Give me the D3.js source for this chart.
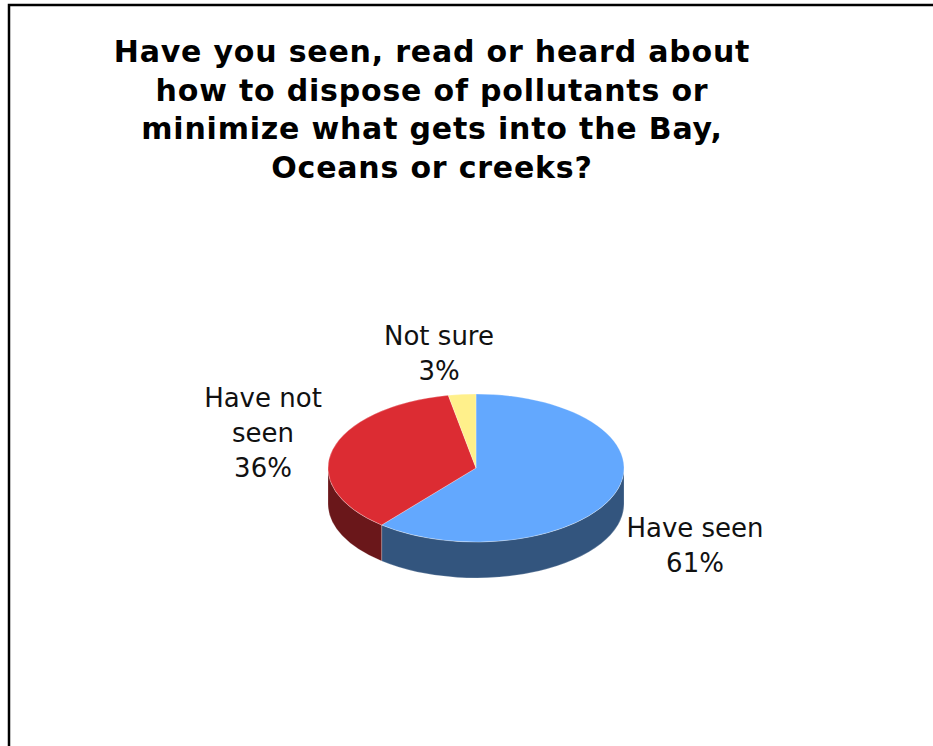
<!DOCTYPE html>
<html lang="en">
<head>
<meta charset="UTF-8">
<title>Pollutant disposal awareness</title>
<script src="https://d3js.org/d3.v7.min.js"></script>
<style>
  body { margin: 0; background: #fff; }
  .title { font-family: "DejaVu Sans", Verdana, sans-serif; font-weight: bold; font-size: 30px; fill: #000; }
  .label { font-family: "DejaVu Sans", Verdana, sans-serif; font-size: 26px; fill: #111; }
</style>
</head>
<body>
<div id="chart"></div>
<script>
// data
const categories = ["Have seen", "Have not seen", "Not sure"];
const values = [61, 36, 3];
const labelLines = [["Have seen", "61%"], ["Have not", "seen", "36%"], ["Not sure", "3%"]];
const titleLines = [
  "Have you seen, read or heard about",
  "how to dispose of pollutants or",
  "minimize what gets into the Bay,",
  "Oceans or creeks?"
];

// look
const topColors  = ["#63a8fe", "#dc2c33", "#fff08b"];
const sideColors = ["#33557e", "#6a171a", "#b3a862"];
// label block offsets from pie centre (first baseline)
const labelOffset = {
  "Have seen":     [219, 69],
  "Have not seen": [-213, -61],
  "Not sure":      [-37, -123]
};

const W = 933, H = 746;
const cx = 476, cy = 468, rx = 148, ry = 74, depth = 36;

const svg = d3.select("#chart").append("svg")
  .attr("width", W).attr("height", H);

// frame
svg.append("rect")
  .attr("x", 9).attr("y", 5)
  .attr("width", 1200).attr("height", 1200)
  .attr("fill", "none").attr("stroke", "#000").attr("stroke-width", 2.5);

// title
svg.append("text").attr("class", "title")
  .attr("text-anchor", "middle")
  .attr("letter-spacing", "0.8px")
  .selectAll("tspan").data(titleLines).join("tspan")
  .attr("x", 432)
  .attr("y", (d, i) => 62 + i * 38.5)
  .text(d => d);

const pie = d3.pie().sort(null).value(d => d);
const arcs = pie(values);

const pt = (a, dy = 0) => [cx + rx * Math.sin(a), cy - ry * Math.cos(a) + dy];

// side walls: only the front half (PI/2 .. 3PI/2) is visible
const sides = arcs.map((d, i) => {
  const a0 = Math.max(d.startAngle, Math.PI / 2);
  const a1 = Math.min(d.endAngle, 3 * Math.PI / 2);
  return { i, a0, a1 };
}).filter(s => s.a1 > s.a0);

svg.append("g").selectAll("path").data(sides).join("path")
  .attr("d", s => {
    const p0 = pt(s.a0), p1 = pt(s.a1), q1 = pt(s.a1, depth), q0 = pt(s.a0, depth);
    return `M${p0}A${rx},${ry} 0 0 1 ${p1}L${q1}A${rx},${ry} 0 0 0 ${q0}Z`;
  })
  .attr("fill", s => sideColors[s.i])
  .attr("stroke", "#ffffff").attr("stroke-opacity", 0.35).attr("stroke-width", 0.6);

// top face
svg.append("g").selectAll("path").data(arcs).join("path")
  .attr("d", d => {
    const p0 = pt(d.startAngle), p1 = pt(d.endAngle);
    const large = d.endAngle - d.startAngle > Math.PI ? 1 : 0;
    return `M${cx},${cy}L${p0}A${rx},${ry} 0 ${large} 1 ${p1}Z`;
  })
  .attr("fill", (d, i) => topColors[i])
  .attr("stroke", "#ffffff").attr("stroke-opacity", 0.45).attr("stroke-width", 0.6);

// labels
const lab = svg.append("g").selectAll("text").data(categories).join("text")
  .attr("class", "label")
  .attr("text-anchor", "middle");
lab.selectAll("tspan").data((c, i) => labelLines[i].map(t => ({ c, t }))).join("tspan")
  .attr("x", d => cx + labelOffset[d.c][0])
  .attr("y", (d, j) => cy + labelOffset[d.c][1] + j * 35)
  .text(d => d.t);
</script>
</body>
</html>
